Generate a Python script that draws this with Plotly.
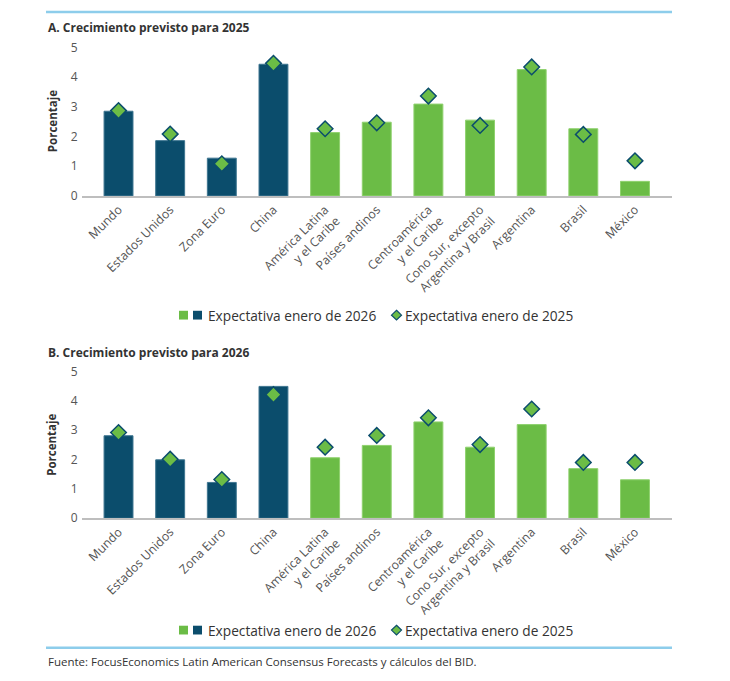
import plotly.graph_objects as go

W, H = 730, 681

categories = ["Mundo", "Estados Unidos", "Zona Euro", "China",
              "América Latina<br>y el Caribe", "Países andinos",
              "Centroamérica<br>y el Caribe", "Cono Sur, excepto<br>Argentina y Brasil",
              "Argentina", "Brasil", "México"]
region_group = ["world", "world", "world", "world",
                "lac", "lac", "lac", "lac", "lac", "lac", "lac"]

# Panel A: growth forecast for 2025
a_exp_2026 = [2.85, 1.86, 1.27, 4.43, 2.13, 2.48, 3.09, 2.55, 4.25, 2.26, 0.49]
a_exp_2025 = [2.87, 2.08, 1.08, 4.46, 2.26, 2.46, 3.36, 2.37, 4.34, 2.07, 1.18]
# Panel B: growth forecast for 2026
b_exp_2026 = [2.81, 1.99, 1.22, 4.49, 2.06, 2.48, 3.28, 2.42, 3.19, 1.69, 1.31]
b_exp_2025 = [2.92, 2.01, 1.32, 4.21, 2.42, 2.82, 3.42, 2.51, 3.72, 1.90, 1.90]

yticks = [0, 1, 2, 3, 4, 5]

NAVY = "#0B4D6C"
GREEN = "#6BBC46"
GREEN_EDGE = "#8FD16E"
NAVY_EDGE = "#3E7590"
LINE_BLUE = "#8DCDEB"
FONT = "Open Sans"
TXT = "#333333"
TICK = "#555555"

bar_colors = [NAVY if g == "world" else GREEN for g in region_group]
bar_edges = [NAVY_EDGE if g == "world" else GREEN_EDGE for g in region_group]


def px(x):
    return x / W


def py(y):
    return 1 - y / H


fig = go.Figure()

panels = [
    ("x", "y", a_exp_2026, a_exp_2025),
    ("x2", "y2", b_exp_2026, b_exp_2025),
]

for xa, ya, bars, diamonds in panels:
    fig.add_trace(go.Bar(
        x=categories, y=bars, xaxis=xa, yaxis=ya, width=0.56,
        marker=dict(color=bar_colors, line=dict(color=bar_edges, width=1)),
        showlegend=False, hoverinfo="x+y"))
    fig.add_trace(go.Scatter(
        x=categories, y=diamonds, xaxis=xa, yaxis=ya, mode="markers",
        marker=dict(symbol="diamond", size=12, color=GREEN,
                    line=dict(color=NAVY, width=1.5)),
        showlegend=False, hoverinfo="x+y"))

xdom = [px(81.5), px(672)]
axis_common = dict(
    domain=xdom, showgrid=False, zeroline=False, showline=True,
    linecolor="#BEBEBE", linewidth=1.5, ticks="", tickangle=-45,
    tickfont=dict(family=FONT, size=12.3, color=TICK),
)
yaxis_common = dict(
    range=[0, 5], tickvals=yticks, showgrid=False, zeroline=False,
    showline=False, ticks="", ticklabelstandoff=3,
    tickfont=dict(family=FONT, size=12, color=TICK),
)

fig.update_layout(
    width=W, height=H, margin=dict(l=0, r=0, t=0, b=0),
    paper_bgcolor="white", plot_bgcolor="white",
    font=dict(family=FONT, color=TXT),
    bargap=0.44,
    xaxis=dict(axis_common, anchor="y"),
    yaxis=dict(yaxis_common, anchor="x", domain=[py(191.7), py(39.3)]),
    xaxis2=dict(axis_common, anchor="y2"),
    yaxis2=dict(yaxis_common, anchor="x2", domain=[py(522.3), py(371.7)]),
)

shapes = []
annotations = []

# horizontal rules
for yline in (3, 655):
    shapes.append(dict(type="line", xref="paper", yref="paper",
                       x0=px(46), x1=px(672), y0=py(yline), y1=py(yline),
                       line=dict(color=LINE_BLUE, width=2.5)))

titles = [("A. Crecimiento previsto para 2025", 19),
          ("B. Crecimiento previsto para 2026", 352)]
for t, ty in titles:
    annotations.append(dict(text="<b>" + t + "</b>", xref="paper", yref="paper",
                            x=px(46), y=py(ty), xanchor="left", yanchor="middle",
                            showarrow=False, font=dict(family=FONT, size=12, color=TXT)))

for ycen in (115, 447):
    annotations.append(dict(text="<b>Porcentaje</b>", xref="paper", yref="paper",
                            x=px(52), y=py(ycen), xanchor="center", yanchor="middle",
                            textangle=-90, showarrow=False,
                            font=dict(family=FONT, size=11.5, color=TXT)))

# custom legends
for ly in (314, 637):
    for x0, col in ((179, GREEN), (193, NAVY)):
        shapes.append(dict(type="rect", xref="paper", yref="paper",
                           x0=px(x0), x1=px(x0 + 9), y0=py(ly + 4.5), y1=py(ly - 4.5),
                           fillcolor=col, line=dict(width=0)))
    annotations.append(dict(text="Expectativa enero de 2026", xref="paper", yref="paper",
                            x=px(206), y=py(ly), xanchor="left", yanchor="middle",
                            showarrow=False, font=dict(family=FONT, size=13.7, color=TXT)))
    cx, r = 396.5, 5
    path = (f"M {px(cx)} {py(ly - r)} L {px(cx + r)} {py(ly)} "
            f"L {px(cx)} {py(ly + r)} L {px(cx - r)} {py(ly)} Z")
    shapes.append(dict(type="path", xref="paper", yref="paper", path=path,
                       fillcolor=GREEN, line=dict(color=NAVY, width=1.2)))
    annotations.append(dict(text="Expectativa enero de 2025", xref="paper", yref="paper",
                            x=px(403), y=py(ly), xanchor="left", yanchor="middle",
                            showarrow=False, font=dict(family=FONT, size=13.7, color=TXT)))

annotations.append(dict(text="Fuente: FocusEconomics Latin American Consensus Forecasts y cálculos del BID.",
                        xref="paper", yref="paper", x=px(46), y=py(669),
                        xanchor="left", yanchor="middle", showarrow=False,
                        font=dict(family=FONT, size=11.5, color=TXT)))

fig.update_layout(shapes=shapes, annotations=annotations)

fig.write_html(
    "out.html",
    config={"displayModeBar": False},
    post_script="document.body.style.margin='0';document.body.style.overflow='hidden';",
)
